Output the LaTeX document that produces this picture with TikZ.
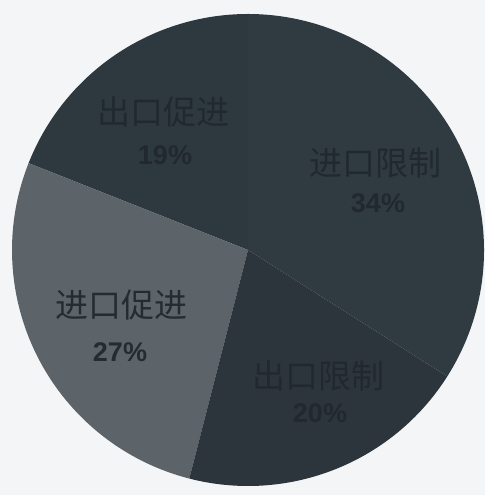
\documentclass[tikz,border=0pt]{standalone}
\usepackage{fontspec}
\newfontfamily\cjk{Noto Sans CJK SC}
\setsansfont{Liberation Sans}
\definecolor{bgpaper}{RGB}{244,245,247}
\definecolor{ckcj}{RGB}{45,56,63}
\definecolor{jkxz}{RGB}{47,58,65}
\definecolor{ckxz}{RGB}{43,53,59}
\definecolor{jkcj}{RGB}{92,100,105}
\definecolor{lbldark}{RGB}{33,41,46}
\definecolor{lblgray}{RGB}{38,43,47}
\tikzset{
  slicename/.style={font=\cjk\fontsize{33}{34}\selectfont},
  slicepct/.style={font=\sffamily\bfseries\fontsize{27}{28}\selectfont}
}
\begin{document}
\begin{tikzpicture}[x=1pt,y=1pt]
\fill[bgpaper] (0,0) rectangle (485,495);
\useasboundingbox (0,0) rectangle (485,495);
\coordinate (c) at (248,245);

% slices
\fill[ckcj] (c) -- ++(90:236) arc (90:158.4:236) -- cycle;
\fill[jkcj] (c) -- ++(158.4:236) arc (158.4:255.6:236) -- cycle;
\fill[ckxz] (c) -- ++(255.6:236) arc (255.6:327.6:236) -- cycle;
\fill[jkxz] (c) -- ++(327.6:236) arc (327.6:450:236) -- cycle;

% labels
\node[slicename, text=lbldark] (ckcjname) at (163,383) {出口促进};
\node[slicepct, text=lbldark] (ckcjpct) at (165,340) {19\%};
\node[slicename, text=lbldark] (jkxzname) at (375,332) {进口限制};
\node[slicepct, text=lbldark] (jkxzpct) at (378,292) {34\%};
\node[slicename, text=lblgray] (jkcjname) at (121,190) {进口促进};
\node[slicepct, text=lblgray] (jkcjpct) at (120,143) {27\%};
\node[slicename, text=lbldark] (ckxzname) at (318,119) {出口限制};
\node[slicepct, text=lbldark] (ckxzpct) at (320,82) {20\%};
\end{tikzpicture}
\end{document}
